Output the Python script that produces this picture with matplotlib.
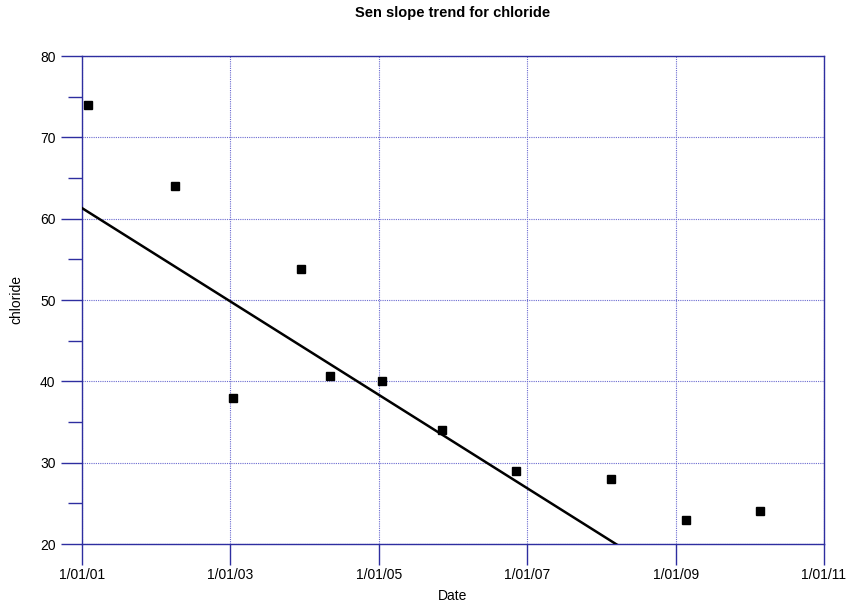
import datetime as dt
import matplotlib
matplotlib.use('Agg')
import matplotlib.pyplot as plt
import matplotlib.dates as mdates
from matplotlib.ticker import MultipleLocator

plt.rcParams['font.family'] = ['Liberation Sans', 'DejaVu Sans']

# sample dates and chloride values
sample_dates = ['2001-02-01', '2002-04-02', '2003-01-14', '2003-12-15', '2004-05-05',
                '2005-01-16', '2005-11-07', '2006-11-06', '2008-02-16', '2009-02-21',
                '2010-02-20']
chloride = [74, 64, 38, 53.8, 40.6, 40, 34, 29, 28, 23, 24]

# Sen slope trend line end points
trend_dates = ['2001-01-01', '2011-01-01']
trend_values = [61.3, 3.9]

# x tick dates
tick_dates = ['2001-01-01', '2003-01-01', '2005-01-01', '2007-01-01',
              '2009-01-01', '2011-01-01']

NAVY = '#2e2ea0'
GRID = '#6a6ad0'


def to_dt(s):
    return dt.datetime.strptime(s, '%Y-%m-%d')


x = [to_dt(d) for d in sample_dates]
tx = [to_dt(d) for d in trend_dates]

fig = plt.figure(figsize=(8.48, 6.06), dpi=100)
ax = fig.add_axes([82 / 848, 1 - 544 / 606, (824 - 82) / 848, (544 - 56) / 606])

ax.plot(tx, trend_values, color='black', linewidth=1.8, zorder=3)
ax.plot(x, chloride, linestyle='none', marker='s', markersize=5.8,
        color='black', zorder=4)

ax.set_xlim(to_dt(tick_dates[0]), to_dt(tick_dates[-1]))
ax.set_ylim(20, 80)

ax.set_xticks([to_dt(d) for d in tick_dates])
ax.xaxis.set_major_formatter(mdates.DateFormatter('1/01/%y'))
ax.yaxis.set_major_locator(MultipleLocator(10))
ax.yaxis.set_minor_locator(MultipleLocator(5))

ax.grid(True, which='major', color=GRID, linestyle=(0, (1, 1)), linewidth=0.8)
for s in ax.spines.values():
    s.set_color(NAVY)
    s.set_linewidth(1.0)

ax.tick_params(which='major', direction='out', length=15, width=1, color=NAVY,
               labelsize=10)
ax.tick_params(axis='x', which='major', pad=2)
ax.tick_params(axis='y', which='major', pad=4)
ax.tick_params(axis='y', which='minor', direction='out', length=10, width=1, color=NAVY)
ax.tick_params(axis='x', which='minor', length=0)

ax.set_xlabel('Date', fontsize=10, labelpad=5)
ax.set_ylabel('chloride', fontsize=10, labelpad=12)
fig.text(453 / 848, 1 - 13 / 606, 'Sen slope trend for chloride', ha='center', va='center',
         fontsize=10.5, fontweight='bold')

fig.savefig('out.png', dpi=100, facecolor='white')
